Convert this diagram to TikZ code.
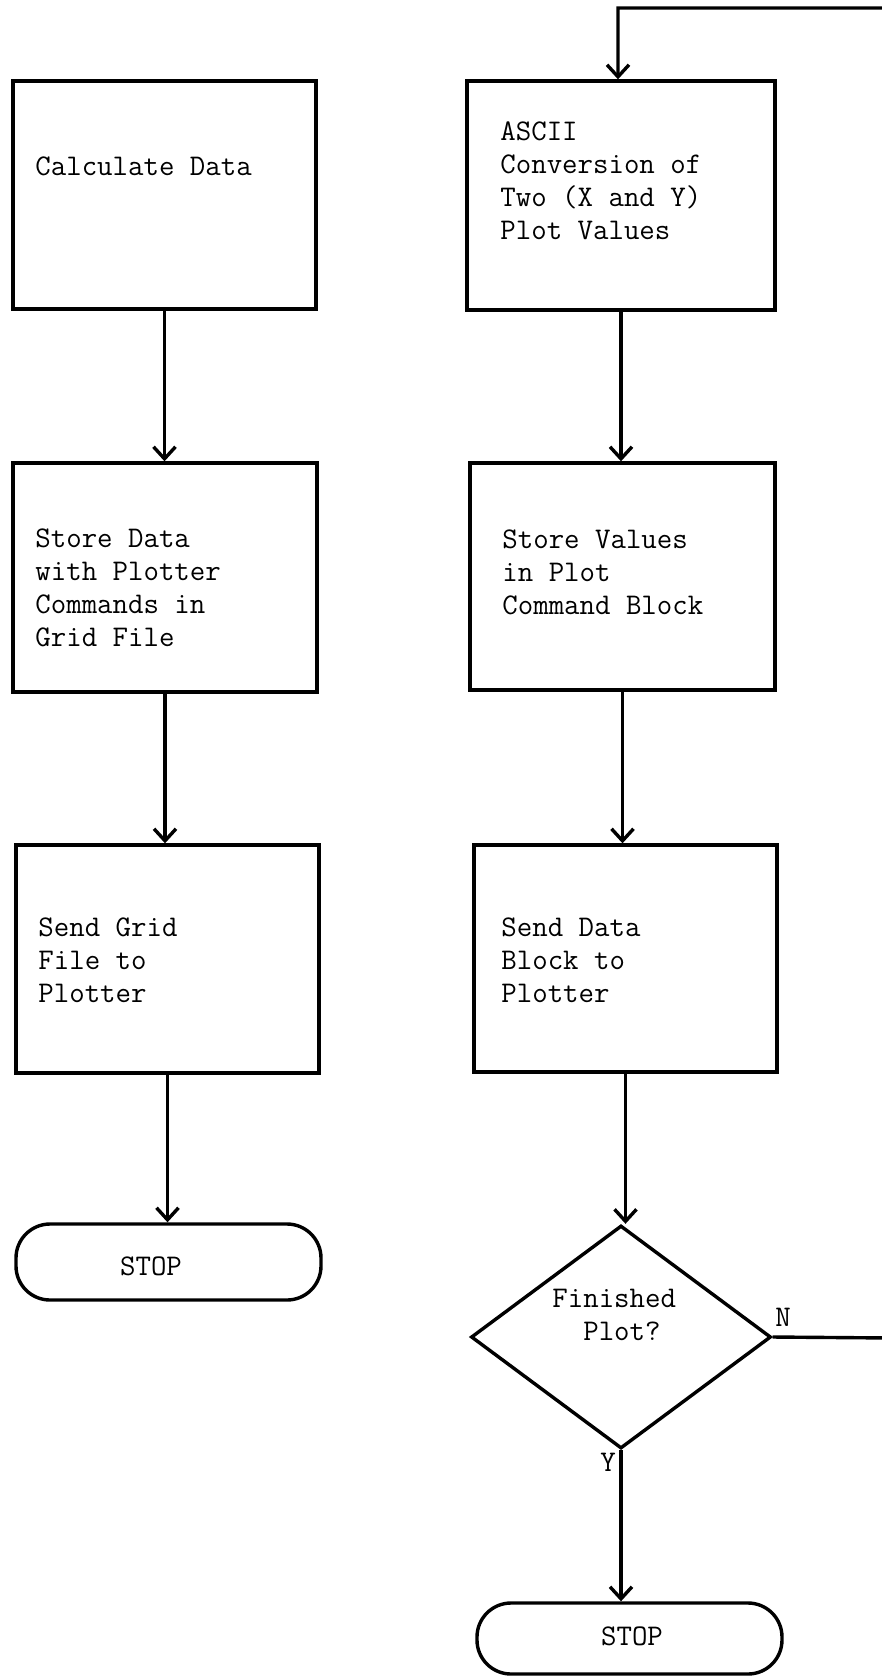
\documentclass[tikz,border=0pt]{standalone}
\usetikzlibrary{arrows.meta,fit,shapes.geometric}
\begin{document}
\begin{tikzpicture}[x=0.5pt,y=-0.5pt,
  every node/.style={font=\ttfamily\fontsize{15}{16.5}\selectfont},
  procbox/.style={draw, rectangle, line width=1.7pt, inner sep=0pt},
  termbox/.style={draw, rectangle, rounded corners=17pt, line width=1.7pt, inner sep=0pt},
  decision/.style={draw, diamond, line width=1.7pt, inner sep=0pt},
  txt/.style={inner sep=0pt, align=left, anchor=west},
  flow/.style={line width=1.7pt, -{Straight Barb[length=6pt,width=11pt,line width=1.7pt]}},
  plain/.style={line width=1.7pt}
]
\useasboundingbox (0,0) rectangle (882,1677);
\clip (0,0) rectangle (882,1677);

% left column
\node[procbox, fit={(13,81) (316,309)}] (b1) {};
\node[procbox, fit={(13,463) (317,692)}] (b2) {};
\node[procbox, fit={(16,845) (319,1073)}] (b3) {};
\node[termbox, fit={(16,1224) (321,1300)}] (s1) {};

% right column
\node[procbox, fit={(467,81) (775,310)}] (b4) {};
\node[procbox, fit={(470,463) (775,690)}] (b5) {};
\node[procbox, fit={(474,845) (777,1072)}] (b6) {};
\node[decision, minimum width=150pt, minimum height=111.5pt] (d) at (621,1337) {};
\node[termbox, fit={(477,1603) (782,1674)}] (s2) {};

% texts
\node[txt] (t1) at (35,166) {Calculate Data};
\node[txt] (t2) at (35,588) {Store Data\\with Plotter\\Commands in\\Grid File};
\node[txt] (t3) at (38,960) {Send Grid\\File to\\Plotter};
\node[inner sep=0pt] (t7) at (151,1266) {STOP};
\node[txt] (t4) at (500,181) {ASCII\\Conversion of\\Two (X and Y)\\Plot Values};
\node[txt] (t5) at (502,572) {Store Values\\in Plot\\Command Block};
\node[txt] (t6) at (501,960) {Send Data\\Block to\\Plotter};
\node[txt] (t8) at (552,1315) {Finished\\\ \ Plot?};
\node[inner sep=0pt] (t9) at (632,1636) {STOP};
\node[inner sep=0pt] (ln) at (783,1317) {N};
\node[inner sep=0pt] (ly) at (608,1462) {Y};

% connectors
\draw[flow] (b1.south) -- (b1.south |- b2.north);
\draw[flow] (b2.south) -- (b2.south |- b3.north);
\draw[flow] (b3.south) -- (b3.south |- s1.north);
\draw[flow] (b4.south) -- (b4.south |- b5.north);
\draw[flow] (b5.south) -- (b5.south |- b6.north);
\draw[flow] (b6.south) -- (b6.south |- d.north);
\draw[flow] (d.south) -- (d.south |- s2.north);

\coordinate (ne) at (892,1338);
\coordinate (tp) at (618,8);
\draw[flow] (d.east) -- (ne) |- (tp) -- (tp |- b4.north);
\end{tikzpicture}
\end{document}
